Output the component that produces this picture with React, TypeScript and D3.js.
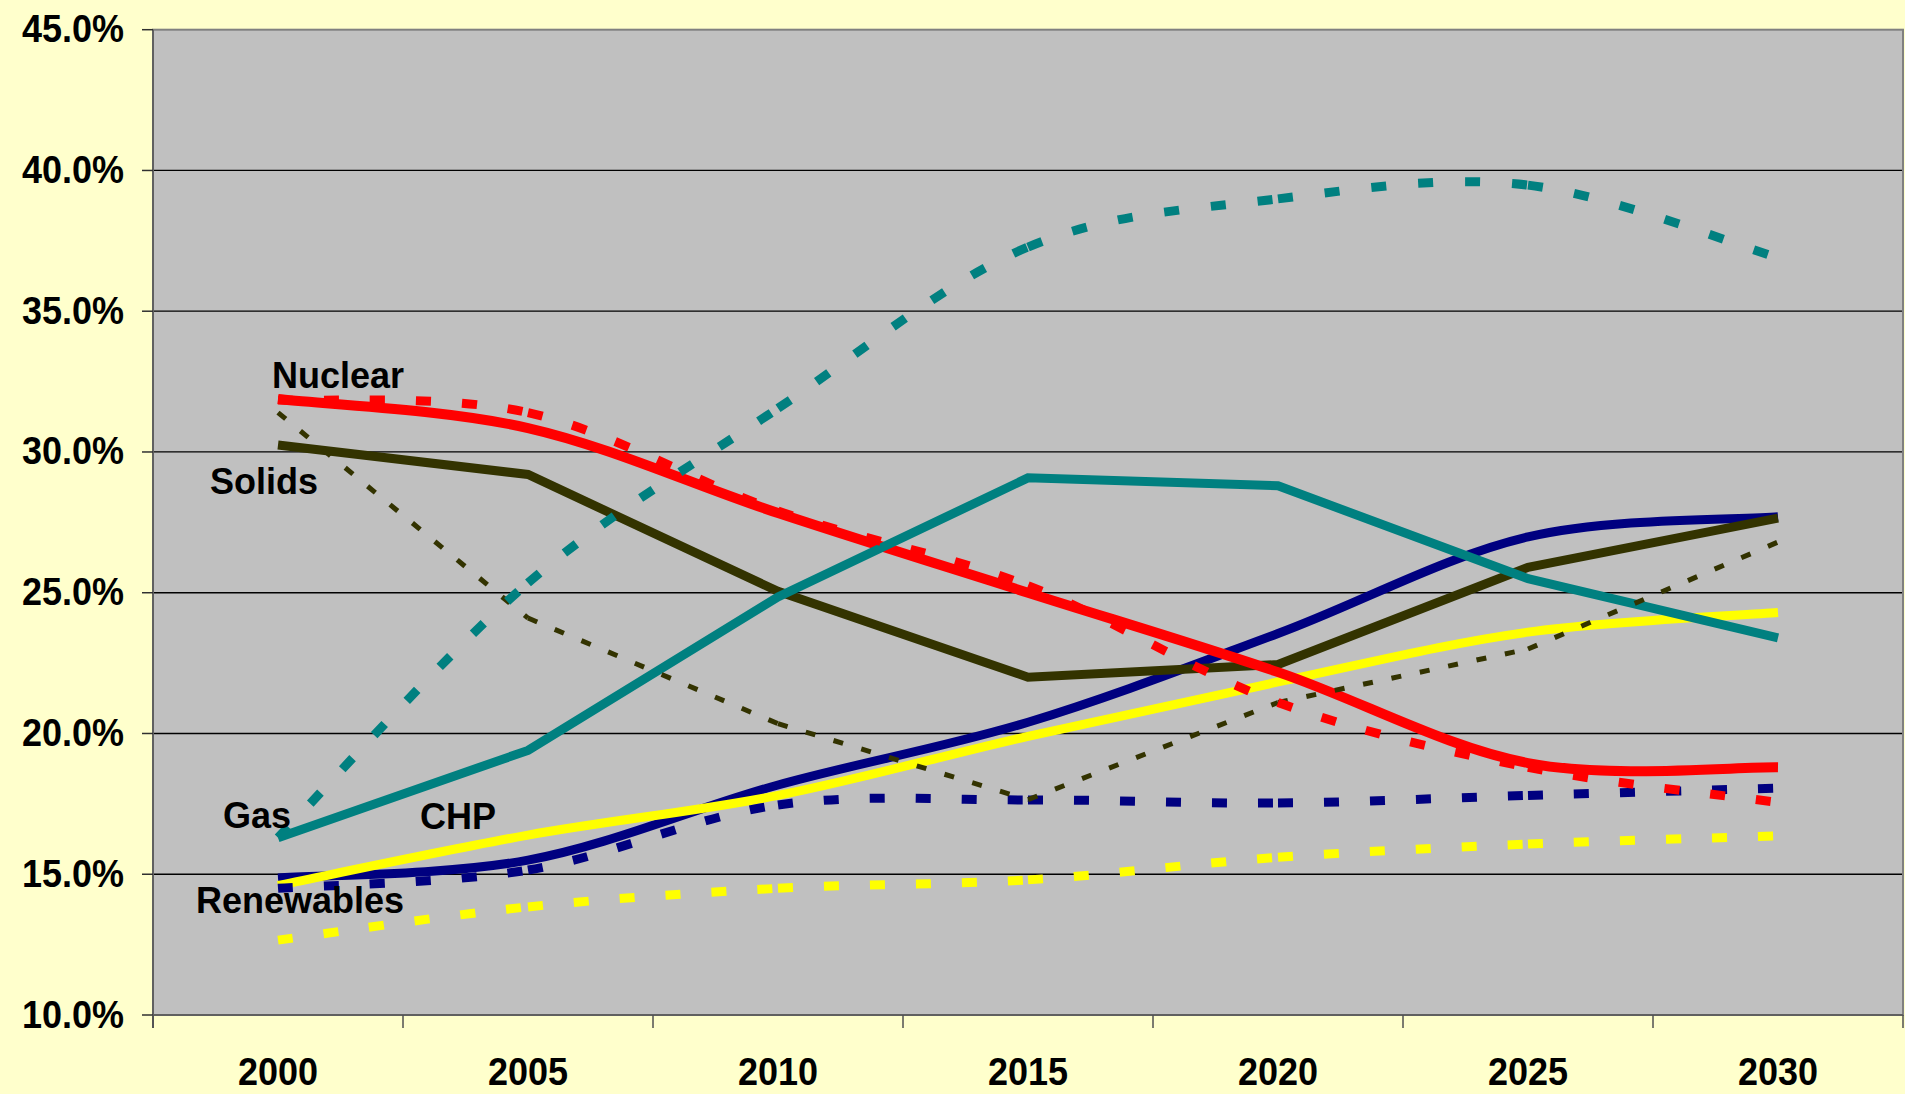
import React from 'react';
import * as d3 from 'd3';

// categories and axis ticks
const years = ['2000', '2005', '2010', '2015', '2020', '2025', '2030'];
const yTicks = [10, 15, 20, 25, 30, 35, 40, 45];

// shares in %; "A" = solid line, "B" = dashed line
const nuclearA = [31.88, 30.85, 27.83, 25.0, 22.18, 18.95, 18.8];
const nuclearB = [31.85, 31.4, 27.9, 25.25, 21.1, 18.8, 17.55];
const solidsA = [30.25, 29.2, 25.05, 22.0, 22.45, 25.9, 27.65];
const solidsB = [31.4, 24.1, 20.35, 17.65, 21.1, 23.0, 26.8];
const gasA = [16.3, 19.4, 24.85, 29.08, 28.8, 25.5, 23.4];
const gasB = [16.3, 25.35, 31.55, 37.28, 38.99, 39.48, 36.9];
const chpA = [14.87, 15.5, 18.17, 20.4, 23.55, 26.98, 27.7];
const chpB = [14.5, 15.15, 17.46, 17.64, 17.53, 17.8, 18.06];
const renewA = [14.6, 16.39, 17.8, 19.9, 21.83, 23.6, 24.3];
const renewB = [12.66, 13.84, 14.5, 14.8, 15.6, 16.07, 16.36];

// in-plot labels: name, value of the baseline, offset from the 2000 category centre
const labelNames = ['Nuclear', 'Solids', 'Gas', 'CHP', 'Renewables'];
const labelValues = [32.27, 28.5, 16.64, 16.6, 13.62];
const labelDx = [-6, -68, -55, 142, -82];

const W = 1905;
const H = 1094;
const left = 153;
const right = 1903;
const top = 29.7;
const bottom = 1015;

const x = d3.scaleBand<string>().domain(years).range([left, right]);
const y = d3.scaleLinear().domain([10, 45]).range([bottom, top]);
const cx = (yr: string) => (x(yr) as number) + x.bandwidth() / 2;

type Series = { values: number[]; color: string; width: number; dash?: string; smooth: boolean };

const series: Series[] = [
  { values: chpA, color: '#000080', width: 9, smooth: true },
  { values: renewA, color: '#FFFF00', width: 9, smooth: true },
  { values: solidsA, color: '#333300', width: 9, smooth: false },
  { values: nuclearA, color: '#FF0000', width: 10, smooth: true },
  { values: gasA, color: '#008080', width: 9, smooth: false },
  { values: chpB, color: '#000080', width: 9, dash: '15 31', smooth: true },
  { values: renewB, color: '#FFFF00', width: 9, dash: '15 31', smooth: true },
  { values: solidsB, color: '#333300', width: 5, dash: '10 19', smooth: false },
  { values: nuclearB, color: '#FF0000', width: 9, dash: '15 31', smooth: true },
  { values: gasB, color: '#008080', width: 9, dash: '15 32', smooth: true },
];

// one path per category step, so the dash pattern restarts at every point (as Excel does)
function segments(values: number[], smooth: boolean): string[] {
  const pts = values.map((v, i) => [cx(years[i]), y(v)]);
  const out: string[] = [];
  for (let i = 0; i < pts.length - 1; i++) {
    const a = pts[i];
    const b = pts[i + 1];
    const p = d3.path();
    p.moveTo(a[0], a[1]);
    if (smooth) {
      const prev = pts[Math.max(0, i - 1)];
      const next = pts[Math.min(pts.length - 1, i + 2)];
      p.bezierCurveTo(
        a[0] + (b[0] - prev[0]) / 6, a[1] + (b[1] - prev[1]) / 6,
        b[0] - (next[0] - a[0]) / 6, b[1] - (next[1] - a[1]) / 6,
        b[0], b[1]
      );
    } else {
      p.lineTo(b[0], b[1]);
    }
    out.push(p.toString());
  }
  return out;
}

const font = "'Liberation Sans', Arial, sans-serif";

export default function App() {
  const boundaries = d3.range(years.length + 1).map(i => left + i * x.bandwidth());

  return (
    <svg width={W} height={H} style={{ position: 'absolute', left: 0, top: 0, display: 'block' }}>
      <rect x={0} y={0} width={W} height={H} fill="#FFFFCC" />
      <rect x={left} y={top} width={right - left} height={bottom - top} fill="#C0C0C0" />

      {yTicks.filter(t => t > 10 && t < 45).map(t => (
        <line key={t} x1={left} x2={right} y1={y(t)} y2={y(t)} stroke="#000" strokeWidth={1.3} />
      ))}

      {series.map((s, si) => {
        const segs = segments(s.values, s.smooth);
        if (!s.dash) {
          return (
            <path key={si} d={segs.join('').replace(/M[^CL]*/g, (m, off) => (off === 0 ? m : ''))}
              fill="none" stroke={s.color} strokeWidth={s.width} strokeLinejoin="miter" />
          );
        }
        return (
          <g key={si}>
            {segs.map((d, i) => (
              <path key={i} d={d} fill="none" stroke={s.color} strokeWidth={s.width}
                strokeDasharray={s.dash} strokeLinecap="butt" />
            ))}
          </g>
        );
      })}

      <rect x={left} y={top} width={right - left} height={bottom - top} fill="none" stroke="#808080" strokeWidth={2} />
      <line x1={left} x2={left} y1={top} y2={bottom + 13} stroke="#606060" strokeWidth={2} />
      <line x1={left} x2={right} y1={bottom} y2={bottom} stroke="#606060" strokeWidth={2} />

      {yTicks.map(t => (
        <g key={t}>
          <line x1={left - 11} x2={left} y1={y(t)} y2={y(t)} stroke="#303030" strokeWidth={1.5} />
          <text transform={`translate(124,${y(t) + 12.5}) scale(1,1.1)`} textAnchor="end"
            fontFamily={font} fontWeight="bold" fontSize={36} fill="#000">
            {t.toFixed(1)}%
          </text>
        </g>
      ))}

      {boundaries.map((bx, i) => (
        <line key={i} x1={bx} x2={bx} y1={bottom} y2={bottom + 13} stroke="#505050" strokeWidth={1.5} />
      ))}
      {years.map(yr => (
        <text key={yr} transform={`translate(${cx(yr)},1085) scale(1,1.1)`} textAnchor="middle"
          fontFamily={font} fontWeight="bold" fontSize={36} fill="#000">
          {yr}
        </text>
      ))}

      {labelNames.map((name, i) => (
        <text key={name} x={cx(years[0]) + labelDx[i]} y={y(labelValues[i])}
          fontFamily={font} fontWeight="bold" fontSize={36} fill="#000">
          {name}
        </text>
      ))}
    </svg>
  );
}
